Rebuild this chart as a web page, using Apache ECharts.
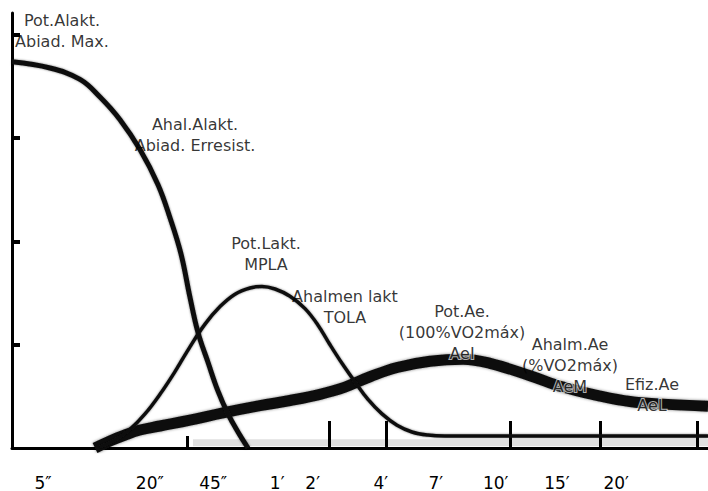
<!DOCTYPE html>
<html>
<head>
<meta charset="utf-8">
<script src="https://cdn.jsdelivr.net/npm/echarts@6/dist/echarts.min.js"></script>
<style>
html,body{margin:0;padding:0;background:#fff;}
#c{width:708px;height:491px;}
</style>
</head>
<body>
<div id="c"></div>
<script>
// time scale labels along the bottom (position on the schematic time scale 0..100)
const timeLabels = ['5″','20″','45″','1′','2′','4′','7′','10′','15′','20′'];
const timePos    = [4.45, 19.8, 28.9, 38.1, 43.2, 53.0, 60.9, 69.5, 78.3, 86.8];
const tallTicks  = [45.55, 53.74, 71.55, 84.48, 98.42];
const shortTicks = [25.14];
const yTicks     = [1, 2, 3, 4];

// Alactic power (Pot.Alakt.) curve
const alactic = [
  [0,3.74],[5.46,3.68],[9.77,3.57],[12.64,3.40],[15.52,3.18],[18.39,2.89],
  [20.98,2.55],[22.70,2.23],[24.28,1.88],[25.57,1.46],[26.72,1.12],[28.16,0.83],
  [29.60,0.55],[31.03,0.33],[32.47,0.155],[33.91,0]
];
// Lactic power / capacity curve
const lactic = [
  [12.64,0.01],[14.80,0.077],[16.95,0.18],[19.11,0.33],[21.26,0.52],[23.42,0.74],
  [25.57,0.98],[27.73,1.20],[29.89,1.37],[32.04,1.49],[34.20,1.55],[35.92,1.565],
  [37.79,1.54],[39.94,1.47],[42.10,1.35],[43.97,1.19],[45.69,1.00],[47.41,0.82],
  [49.28,0.64],[51.15,0.47],[53.16,0.33],[55.32,0.22],[57.47,0.155],[59.77,0.125],
  [62.21,0.116],[100,0.116]
];
// Aerobic curve
const aerobic = [
  [11.93,0],[14.08,0.068],[16.24,0.126],[18.39,0.174],[21.26,0.213],[25.57,0.27],
  [30.32,0.34],[35.63,0.41],[39.94,0.46],[44.25,0.52],[47.84,0.59],[51.44,0.69],
  [55.32,0.78],[60.06,0.84],[64.80,0.86],[68.68,0.82],[74.43,0.70],[79.17,0.59],
  [84.05,0.51],[88.79,0.45],[93.53,0.425],[100,0.405]
];
// faint grey band along the baseline
const baseBand = [[26,0.05],[100,0.05]];

// annotations (the last line of the aerobic notes sits on the curve)
const noteText = [
  ['Pot.Alakt.','Abiad. Max.'],
  ['Ahal.Alakt.','Abiad. Erresist.'],
  ['Pot.Lakt.','MPLA'],
  ['Ahalmen lakt','TOLA'],
  ['Pot.Ae.','(100%VO2máx)','AeI'],
  ['Ahalm.Ae','(%VO2máx)','AeM'],
  ['Efiz.Ae','AeL']
];
const noteOnCurve = [false,false,false,false,true,true,true];
const noteAt = [
  [7.18,4.04],[26.3,3.03],[36.49,1.88],[47.84,1.37],[64.66,1.12],[80.17,0.80],[91.95,0.51]
];

const chart = echarts.init(document.getElementById('c'), null, {renderer:'svg'});
const ink = '#000';
const font = 'DejaVu Sans';

function noteLabel(i){
  const lines = noteText[i].map(s=>'{n|'+s+'}');
  if (noteOnCurve[i]) lines[lines.length-1] = '{h|'+noteText[i][noteText[i].length-1]+'}';
  return lines.join('\n');
}

chart.setOption({
  animation:false,
  backgroundColor:'#fff',
  grid:{left:12, right:0, top:13, bottom:42},
  xAxis:[{
    type:'value', min:0, max:100,
    splitLine:{show:false},
    axisLine:{show:true, lineStyle:{color:ink, width:3}},
    axisTick:{show:true, inside:true, length:27, customValues:tallTicks, lineStyle:{color:ink, width:3}},
    axisLabel:{
      show:true, customValues:timePos, margin:26,
      fontFamily:font, fontSize:17, color:ink,
      formatter:function(v){
        for (let i=0;i<timePos.length;i++) if (Math.abs(timePos[i]-v)<1e-6) return timeLabels[i];
        return '';
      }
    }
  },{
    type:'value', min:0, max:100, position:'bottom',
    splitLine:{show:false},
    axisLine:{show:false},
    axisTick:{show:true, inside:true, length:12, customValues:shortTicks, lineStyle:{color:ink, width:3}},
    axisLabel:{show:false}
  }],
  yAxis:{
    type:'value', min:0, max:4.213,
    splitLine:{show:false},
    axisLine:{show:true, lineStyle:{color:ink, width:3}},
    axisTick:{show:true, inside:true, length:8, customValues:yTicks, lineStyle:{color:ink, width:4}},
    axisLabel:{show:false}
  },
  series:[
    {type:'line', name:'band', data:baseBand, symbol:'none', z:1,
     lineStyle:{color:'rgba(0,0,0,0.12)', width:7}},
    {type:'line', name:'Aerobic', data:aerobic, smooth:0.4, symbol:'none',
     lineStyle:{color:'#111', width:11, shadowBlur:3, shadowColor:'rgba(0,0,0,0.5)'}},
    {type:'line', name:'Lactic', data:lactic, smooth:0.4, symbol:'none',
     lineStyle:{color:'#111', width:3.5, shadowBlur:2, shadowColor:'rgba(0,0,0,0.5)'}},
    {type:'line', name:'Alactic', data:alactic, smooth:0.4, symbol:'none',
     lineStyle:{color:'#111', width:5, shadowBlur:2, shadowColor:'rgba(0,0,0,0.5)'}},
    {type:'scatter', name:'notes', symbolSize:0, z:10,
     data: noteAt.map((p,i)=>({value:p, name:String(i)})),
     label:{show:true, position:'inside', formatter:p=>noteLabel(p.dataIndex),
            align:'center', verticalAlign:'middle',
            rich:{
              n:{fontFamily:font, fontSize:16, lineHeight:21, color:ink, align:'center'},
              h:{fontFamily:font, fontSize:16, lineHeight:21, color:ink, align:'center',
                 textBorderColor:'rgba(255,255,255,0.85)', textBorderWidth:2}
            }}}
  ]
});
</script>
</body>
</html>
